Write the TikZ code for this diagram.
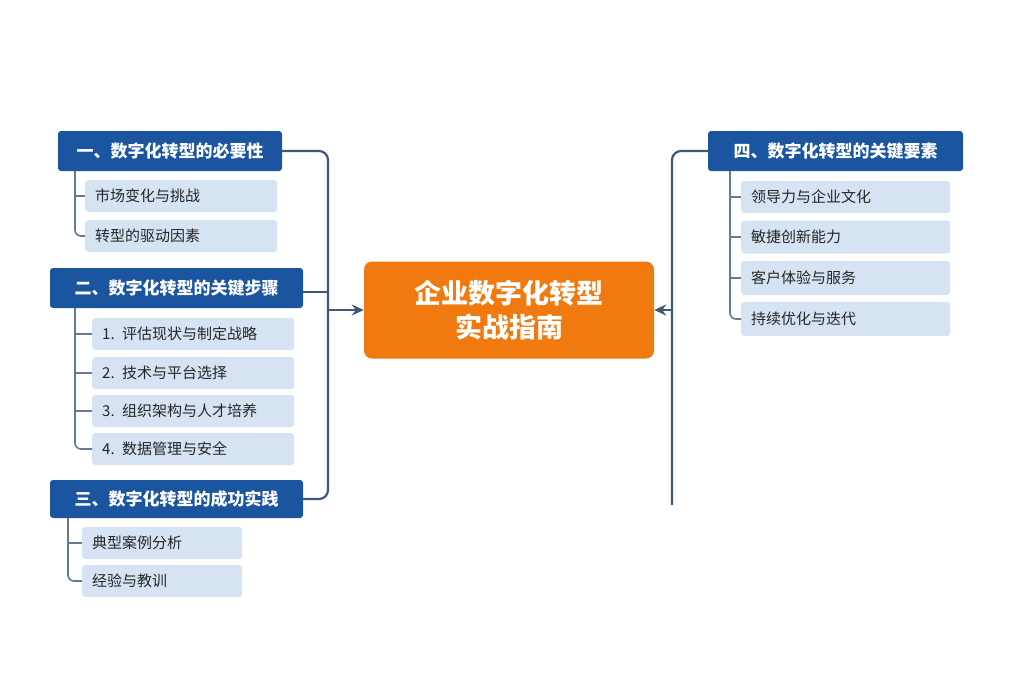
\documentclass[tikz,border=0pt]{standalone}
\usepackage{fontspec}
\setmainfont{Noto Sans CJK SC}
\usetikzlibrary{positioning,arrows.meta,calc}
\definecolor{hdblue}{HTML}{1B55A0}
\definecolor{itemfill}{HTML}{D5E3F3}
\definecolor{linecol}{HTML}{3D5878}
\definecolor{mainorange}{HTML}{F07A10}
\tikzset{
  header/.style={fill=hdblue, rounded corners=3pt, text=white, font=\fontsize{17}{20}\selectfont\bfseries, minimum height=40pt, inner xsep=6pt},
  item/.style={fill=itemfill, rounded corners=3pt, text=black!85, font=\fontsize{15}{18}\selectfont, minimum height=32pt, anchor=west, text width=#1, inner xsep=10pt},
  item/.default=176pt,
  link/.style={draw=linecol, line width=2.2pt, rounded corners=9pt},
  branch/.style={draw=linecol!80, line width=1.6pt, rounded corners=6pt}
}
\begin{document}
\begin{tikzpicture}[x=1pt,y=-1pt]
\useasboundingbox (0,0) rectangle (1024,683);

% centre
\node[fill=mainorange, rounded corners=8pt, minimum width=290pt, minimum height=97pt, text=white,
  font=\fontsize{27}{34}\selectfont\bfseries, align=center] (main) at (509,310) {企业数字化转型\\实战指南};

% headers
\node[header, minimum width=224pt] (h1) at (170,151) {一、数字化转型的必要性};
\node[header, minimum width=253pt] (h2) at (176.5,288) {二、数字化转型的关键步骤};
\node[header, minimum width=253pt, minimum height=38pt] (h3) at (176.5,499) {三、数字化转型的成功实践};
\node[header, minimum width=255pt] (h4) at (835.5,151) {四、数字化转型的关键要素};

% items
\node[item=172pt] (a1) at (85,196) {市场变化与挑战};
\node[item=172pt] (a2) at (85,236) {转型的驱动因素};
\node[item=182pt] (b1) at (92,334) {1. 评估现状与制定战略};
\node[item=182pt] (b2) at (92,373) {2. 技术与平台选择};
\node[item=182pt] (b3) at (92,411) {3. 组织架构与人才培养};
\node[item=182pt] (b4) at (92,449) {4. 数据管理与安全};
\node[item=140pt] (c1) at (82,543) {典型案例分析};
\node[item=140pt] (c2) at (82,581) {经验与教训};
\node[item=189pt] (d1) at (741,197) {领导力与企业文化};
\node[item=189pt, minimum height=33pt] (d2) at (741,237) {敏捷创新能力};
\node[item=189pt, minimum height=34pt] (d3) at (741,278) {客户体验与服务};
\node[item=189pt, minimum height=34pt] (d4) at (741,319) {持续优化与迭代};

% branches
\draw[branch] (75,171) |- (a2.west);
\draw[branch] (75,196) -- (a1.west);
\draw[branch] (75,308) |- (b4.west);
\foreach \n in {b1,b2,b3} \draw[branch] (75,0 |- \n.west) -- (\n.west);
\draw[branch] (68,518) |- (c2.west);
\draw[branch] (68,543) -- (c1.west);
\draw[branch] (730,171) |- (d4.west);
\foreach \n in {d1,d2,d3} \draw[branch] (730,0 |- \n.west) -- (\n.west);

% links to centre
\coordinate (jl) at (328,310);
\draw[link] (h1.east) -| (jl);
\draw[link] (h2.east |- 0,292) -- (328,292);
\draw[link] (h3.east) -| (jl);
\draw[link, -{Stealth[length=12pt,width=11pt]}] (jl) -- (main.west);
\coordinate (rend) at (672,505);
\draw[link] (h4.west) -| (rend);
\draw[link, -{Stealth[length=12pt,width=11pt]}] (672,310) -- (main.east);
\end{tikzpicture}
\end{document}
